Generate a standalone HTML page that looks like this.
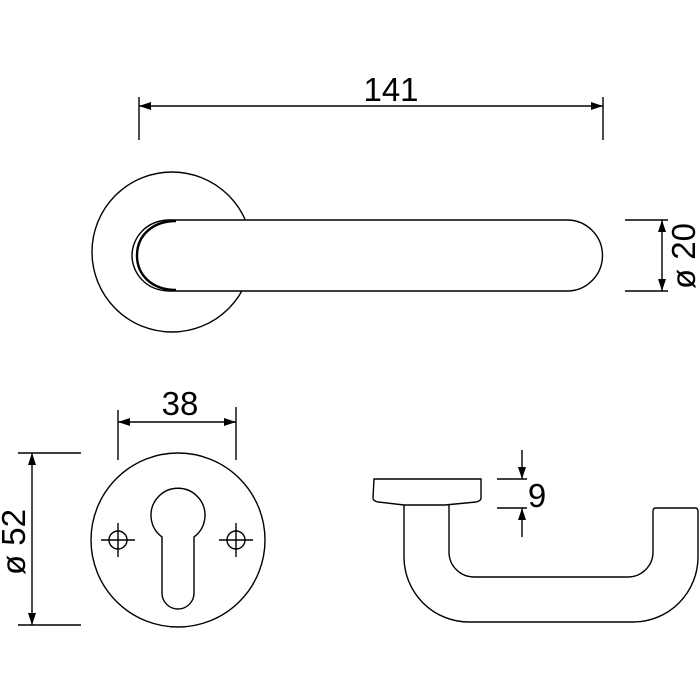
<!DOCTYPE html>
<html><head><style>html,body{margin:0;padding:0;background:#fff}svg{display:block}</style></head><body>
<svg width="700" height="700" viewBox="0 0 700 700" xmlns="http://www.w3.org/2000/svg">
<defs>
<marker id="a" viewBox="0 0 12 8" refX="12" refY="4" markerWidth="12" markerHeight="8" orient="auto-start-reverse" markerUnits="userSpaceOnUse"><path d="M0,0 L12,4 L0,8 z" fill="#000"/></marker>
</defs>
<g fill="none" stroke="#000" stroke-width="1.4">
<!-- top view -->
<circle cx="172" cy="252" r="80"/>
<path d="M170,220 L567,220 A35.5,35.5 0 0 1 567,291 L170,291 C145,291 132,272 132,255.5 C132,239 145,220 170,220 Z" fill="#fff"/>
<path d="M176,221 C152,221 137,236 137,255.5 C137,275 152,290 176,290" stroke-width="2.4"/>
<line x1="139" y1="97" x2="139" y2="140"/><line x1="603" y1="97" x2="603" y2="140"/>
<line x1="139" y1="106" x2="603" y2="106" marker-start="url(#a)" marker-end="url(#a)"/>
<line x1="625" y1="220" x2="668" y2="220"/><line x1="625" y1="291" x2="668" y2="291"/>
<line x1="662" y1="220" x2="662" y2="291" marker-start="url(#a)" marker-end="url(#a)"/>
<!-- escutcheon -->
<circle cx="178" cy="540" r="87"/>
<path d="M162,537 A27,27 0 1 1 194,537 L194,593 A16,16 0 0 1 162,593 Z"/>
<circle cx="118" cy="540" r="9"/><line x1="101" y1="540" x2="135" y2="540"/><line x1="118" y1="523" x2="118" y2="557"/>
<circle cx="236" cy="540" r="9"/><line x1="219" y1="540" x2="253" y2="540"/><line x1="236" y1="523" x2="236" y2="557"/>
<line x1="118" y1="410" x2="118" y2="460"/><line x1="236" y1="407" x2="236" y2="460"/>
<line x1="118" y1="422" x2="236" y2="422" marker-start="url(#a)" marker-end="url(#a)"/>
<line x1="18" y1="453" x2="81" y2="453"/><line x1="18" y1="625" x2="81" y2="625"/>
<line x1="32" y1="453" x2="32" y2="625" marker-start="url(#a)" marker-end="url(#a)"/>
<!-- side view -->
<path d="M374,479 L481,479 L481,498 Q481,501 476,502 L445,505 L404,505 L378,502 Q373,501 373,498 Z"/>
<path d="M404,505 L404,557 A65,65 0 0 0 469,622 L633,622 A65,65 0 0 0 698,557 L698,511 Q698,508 695,508 L656,508 Q653,508 653,511 L653,552 A25,25 0 0 1 628,577 L474,577 A25,25 0 0 1 449,552 L449,505"/>
<line x1="497" y1="479" x2="527" y2="479"/><line x1="497" y1="508" x2="527" y2="508"/>
<line x1="522" y1="450" x2="522" y2="479" marker-end="url(#a)"/>
<line x1="522" y1="537" x2="522" y2="508" marker-end="url(#a)"/>
</g>
<g font-family="Liberation Sans, sans-serif" font-size="33" fill="#000">
<text x="391" y="101" text-anchor="middle">141</text>
<text x="180" y="415" text-anchor="middle">38</text>
<text x="537" y="507" text-anchor="middle">9</text>
<text transform="translate(695,256) rotate(-90)" text-anchor="middle">ø 20</text>
<text transform="translate(25,542) rotate(-90)" text-anchor="middle">ø 52</text>
</g>
</svg>
</body></html>
